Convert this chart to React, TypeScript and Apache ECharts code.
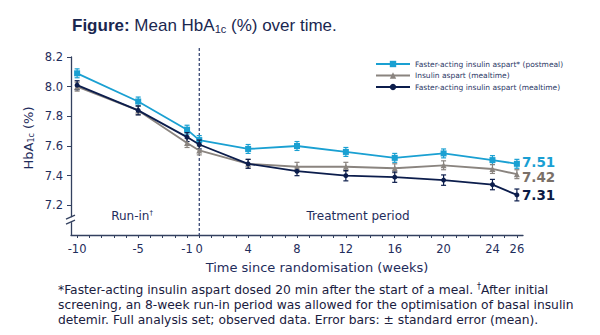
import React, { useEffect, useRef } from "react";
import * as echarts from "echarts";

const weeks = [-10, -5, -1, 0, 4, 8, 12, 16, 20, 24, 26];
const postmeal = [8.09, 7.9, 7.71, 7.64, 7.58, 7.6, 7.56, 7.52, 7.55, 7.505, 7.48];
const aspart = [8.0, 7.84, 7.62, 7.57, 7.48, 7.46, 7.46, 7.45, 7.47, 7.445, 7.41];
const mealtime = [8.01, 7.84, 7.66, 7.61, 7.48, 7.43, 7.4, 7.39, 7.37, 7.34, 7.27];
const sePostmeal = [0.03, 0.03, 0.03, 0.03, 0.03, 0.03, 0.03, 0.03, 0.03, 0.03, 0.03];
const seAspart = [0.03, 0.03, 0.03, 0.03, 0.03, 0.03, 0.03, 0.03, 0.03, 0.03, 0.03];
const seMealtime = [0.03, 0.03, 0.03, 0.03, 0.03, 0.03, 0.035, 0.035, 0.035, 0.035, 0.04];
const seriesNames = [
  "Faster-acting insulin aspart* (postmeal)",
  "Insulin aspart (mealtime)",
  "Faster-acting insulin aspart (mealtime)",
];
const endLabels = ["7.51", "7.42", "7.31"];
const xLabelValues = [-10, -5, -1, 0, 4, 8, 12, 16, 20, 24, 26];
const xTickValues = Array.from({ length: 37 }, (_, i) => i - 10);
const yLabelValues = [7.2, 7.4, 7.6, 7.8, 8.0, 8.2];

const colors = ["#1aa0d2", "#8a847f", "#0c1d4c"];
const labelColors = ["#1a9fd3", "#7a7068", "#0c1b45"];
const labelOffsets = [[0, -2], [0, 3], [0, 0]];
const symbols = ["rect", "triangle", "circle"];
const symbolSizes = [6, 6, 5];
const font = "DejaVu Sans";
const navy = "#1f2d5c";

export default function App() {
  const ref = useRef<HTMLDivElement>(null);
  useEffect(() => {
    if (!ref.current) return;
    const chart = echarts.init(ref.current, null, { renderer: "svg" });
    const vals = [postmeal, aspart, mealtime];
    const ses = [sePostmeal, seAspart, seMealtime];
    const lineSeries = vals.map((v, i) => ({
      type: "line",
      name: seriesNames[i],
      data: weeks.map((w, j) => [w, v[j]]),
      symbol: symbols[i],
      symbolSize: symbolSizes[i],
      color: colors[i],
      lineStyle: { width: 1.8, color: colors[i] },
      itemStyle: { color: colors[i] },
      z: 3 + i,
      endLabel: {
        show: true,
        formatter: () => endLabels[i],
        color: labelColors[i],
        fontSize: 13.5,
        fontWeight: "bold",
        fontFamily: font,
        distance: 5,
        offset: labelOffsets[i],
      },
    }));
    const errSeries = vals.map((v, i) => ({
      type: "custom",
      silent: true,
      z: 2 + i,
      data: weeks.map((w, j) => [w, v[j] - ses[i][j], v[j] + ses[i][j]]),
      renderItem: (params: any, api: any) => {
        const x = api.value(0);
        const p1 = api.coord([x, api.value(1)]);
        const p2 = api.coord([x, api.value(2)]);
        const w = 2.5;
        const st = { stroke: colors[i], lineWidth: 1.2 };
        return {
          type: "group",
          children: [
            { type: "line", shape: { x1: p1[0], y1: p1[1], x2: p2[0], y2: p2[1] }, style: st },
            { type: "line", shape: { x1: p1[0] - w, y1: p1[1], x2: p1[0] + w, y2: p1[1] }, style: st },
            { type: "line", shape: { x1: p2[0] - w, y1: p2[1], x2: p2[0] + w, y2: p2[1] }, style: st },
          ],
        };
      },
    }));
    chart.setOption({
      animation: false,
      grid: { left: 71, right: 77, top: 57, bottom: 100 },
      legend: {
        orient: "vertical",
        left: 370,
        top: 55,
        itemWidth: 34,
        itemHeight: 8,
        itemGap: 3.5,
        data: seriesNames,
        textStyle: { fontSize: 7.5, fontFamily: font, color: "#2b3866" },
      },
      xAxis: {
        type: "value",
        min: -10.5,
        max: 26.5,
        axisLine: { show: true, onZero: false, lineStyle: { color: "#33405f", width: 1.3 } },
        axisTick: {
          show: true,
          customValues: xTickValues,
          length: 3,
          lineStyle: { color: "#33405f" },
        },
        axisLabel: {
          customValues: xLabelValues,
          fontSize: 11.5,
          fontFamily: font,
          color: navy,
          margin: 8,
        },
        splitLine: { show: false },
      },
      yAxis: {
        type: "value",
        min: 7.0,
        max: 8.2,
        axisLine: { show: true, onZero: false, lineStyle: { color: "#33405f", width: 1.3 } },
        axisTick: { show: true, customValues: yLabelValues, length: 4, lineStyle: { color: "#33405f" } },
        axisLabel: {
          customValues: yLabelValues,
          formatter: (v: number) => v.toFixed(1),
          fontSize: 11.5,
          fontFamily: font,
          color: navy,
          margin: 8,
        },
        splitLine: { show: false },
      },
      series: [...errSeries, ...lineSeries],
    });

    const x0 = chart.convertToPixel({ gridIndex: 0 }, [0, 7.1]) as number[];
    const yAx = chart.convertToPixel({ gridIndex: 0 }, [-10.5, 7.1]) as number[];
    const yBottom = (chart.convertToPixel({ gridIndex: 0 }, [0, 7.0]) as number[])[1];
    const xRunIn = (chart.convertToPixel({ gridIndex: 0 }, [-5.5, 7.1]) as number[])[0];
    const xTreat = (chart.convertToPixel({ gridIndex: 0 }, [13, 7.1]) as number[])[0];
    const bx = yAx[0];
    const by = yAx[1];
    chart.setOption({
      graphic: [
        {
          type: "text",
          x: 72,
          y: 25,
          style: {
            text: "{b|Figure:} Mean HbA{s|1c} (%) over time.",
            verticalAlign: "middle",
            fontFamily: "Liberation Sans",
            fontSize: 17,
            fill: "#1a2750",
            rich: {
              b: { fontWeight: "bold", fontSize: 17, fontFamily: "Liberation Sans", fill: "#1a2750" },
              s: { fontSize: 11, fontFamily: "Liberation Sans", fill: "#1a2750", verticalAlign: "bottom", padding: [8, 0, 0, 0] },
            },
          },
        },
        {
          type: "line",
          shape: { x1: x0[0], y1: 48, x2: x0[0], y2: yBottom },
          style: { stroke: "#2a3a6a", lineWidth: 1.2, lineDash: [3, 2] },
          z: 1,
        },
        {
          type: "rect",
          shape: { x: bx - 4, y: by - 3, width: 8, height: 5 },
          style: { fill: "#ffffff" },
          z: 10,
        },
        {
          type: "line",
          shape: { x1: bx - 5, y1: by - 1, x2: bx + 4, y2: by - 5 },
          style: { stroke: "#33405f", lineWidth: 1.2 },
          z: 11,
        },
        {
          type: "line",
          shape: { x1: bx - 5, y1: by + 4, x2: bx + 4, y2: by },
          style: { stroke: "#33405f", lineWidth: 1.2 },
          z: 11,
        },
        {
          type: "text",
          x: xRunIn,
          y: 216,
          style: {
            text: "Run-in{s|†}",
            align: "center",
            verticalAlign: "middle",
            fontFamily: font,
            fontSize: 12,
            fill: navy,
            rich: { s: { fontSize: 7, fontFamily: font, fill: navy, verticalAlign: "top", padding: [0, 0, 6, 0] } },
          },
        },
        {
          type: "text",
          x: xTreat,
          y: 216,
          style: {
            text: "Treatment period",
            align: "center",
            verticalAlign: "middle",
            fontFamily: font,
            fontSize: 12,
            fill: navy,
          },
        },
        {
          type: "text",
          x: 317,
          y: 267,
          style: {
            text: "Time since randomisation (weeks)",
            align: "center",
            verticalAlign: "middle",
            fontFamily: font,
            fontSize: 13,
            fill: navy,
          },
        },
        {
          type: "text",
          x: 28,
          y: 138,
          rotation: Math.PI / 2,
          style: {
            text: "HbA{s|1c} (%)",
            align: "center",
            verticalAlign: "middle",
            fontFamily: font,
            fontSize: 13,
            fill: navy,
            rich: { s: { fontSize: 8, fontFamily: font, fill: navy, verticalAlign: "bottom", padding: [6, 0, 0, 0] } },
          },
        },
        {
          type: "text",
          x: 58,
          y: 282,
          style: {
            text:
              "*Faster-acting insulin aspart dosed 20 min after the start of a meal. {s|†}After initial\nscreening, an 8-week run-in period was allowed for the optimisation of basal insulin\ndetemir. Full analysis set; observed data. Error bars: ± standard error (mean).",
            fontFamily: font,
            fontSize: 12.3,
            lineHeight: 15,
            fill: "#1a2040",
            rich: { s: { fontSize: 8, fontFamily: font, fill: "#1a2040", verticalAlign: "top", padding: [0, 0, 6, 0] } },
          },
        },
      ],
    });
    return () => chart.dispose();
  }, []);
  return <div ref={ref} style={{ width: 600, height: 335, position: "absolute", left: 0, top: 0 }} />;
}
